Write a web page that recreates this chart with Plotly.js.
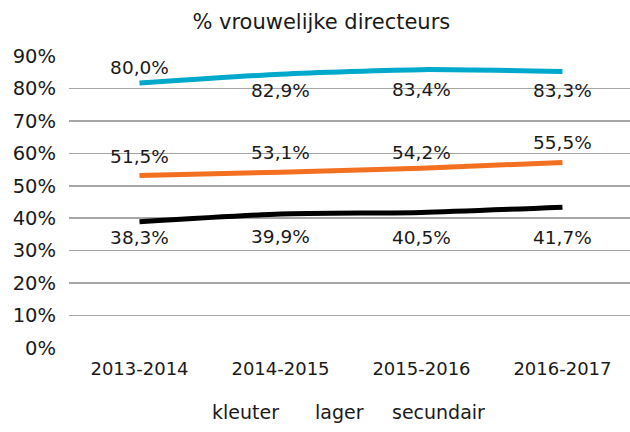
<!DOCTYPE html>
<html>
<head>
<meta charset="utf-8">
<script src="https://cdn.plot.ly/plotly-3.0.1.min.js"></script>
<style>html,body{margin:0;padding:0;background:#fff;overflow:hidden}#chart{width:630px;height:432px}</style>
</head>
<body>
<div id="chart"></div>
<script>
const categories = ['2013-2014', '2014-2015', '2015-2016', '2016-2017'];
const seriesNames = ['kleuter', 'lager', 'secundair'];
// line positions as drawn in the picture
const kleuter = [0.817, 0.844, 0.858, 0.852];
const lager = [0.532, 0.542, 0.554, 0.572];
const secundair = [0.389, 0.413, 0.418, 0.434];
// data label texts as printed
const kleuterLabels = ['80,0%', '82,9%', '83,4%', '83,3%'];
const lagerLabels = ['51,5%', '53,1%', '54,2%', '55,5%'];
const secundairLabels = ['38,3%', '39,9%', '40,5%', '41,7%'];

const colors = ['#00A8CC', '#F37021', '#000000'];
const FONT = '"DejaVu Sans", sans-serif';

// label placement (style only): side and gap size per point
const kleuterPos = ['top center', 'bottom center', 'bottom center', 'bottom center'];
const lagerPos = ['top center', 'top center', 'top center', 'top center'];
const secundairPos = ['bottom center', 'bottom center', 'bottom center', 'bottom center'];
const kleuterGap = [5, 12, 19, 17];
const lagerGap = [11, 12, 6, 12];
const secundairGap = [12, 22, 27, 35];

function mk(name, y, labels, color, pos, gap) {
  return {
    type: 'scatter', mode: 'lines+markers+text', name: name,
    x: categories, y: y, text: labels, textposition: pos,
    textfont: {family: FONT, size: 18.5, color: '#1a1a1a'},
    marker: {size: gap, color: 'rgba(0,0,0,0)', line: {width: 0}},
    line: {color: color, width: 5, shape: 'spline', smoothing: 0.6},
    cliponaxis: false, showlegend: false, hoverinfo: 'skip'
  };
}

const data = [
  mk(seriesNames[0], kleuter, kleuterLabels, colors[0], kleuterPos, kleuterGap),
  mk(seriesNames[1], lager, lagerLabels, colors[1], lagerPos, lagerGap),
  mk(seriesNames[2], secundair, secundairLabels, colors[2], secundairPos, secundairGap)
];

const legendX = [0.314, 0.483, 0.658];
const annotations = seriesNames.map((n, i) => ({
  text: n, xref: 'paper', yref: 'paper', x: legendX[i], y: -0.218,
  xanchor: 'center', yanchor: 'middle', showarrow: false,
  font: {family: FONT, size: 19, color: '#1a1a1a'}
}));

const layout = {
  width: 630, height: 432,
  margin: {l: 69, r: 0, t: 56, b: 84},
  paper_bgcolor: '#ffffff', plot_bgcolor: '#ffffff',
  font: {family: FONT, color: '#1a1a1a'},
  title: {text: '% vrouwelijke directeurs', x: 0.51, xref: 'container', xanchor: 'center',
          y: 0.949, yref: 'container', yanchor: 'middle',
          font: {family: FONT, size: 21, color: '#1a1a1a'}},
  xaxis: {type: 'category', range: [-0.5, 3.479], showgrid: false, zeroline: false,
          showline: false, ticks: '', tickfont: {family: FONT, size: 18, color: '#1a1a1a'},
          ticklabelstandoff: 8, fixedrange: true},
  yaxis: {range: [0, 0.9], dtick: 0.1, tickformat: '.0%', showgrid: true,
          gridcolor: '#A6A6A6', gridwidth: 1.5, zeroline: false, showline: false, ticks: '',
          tickfont: {family: FONT, size: 19.5, color: '#1a1a1a'}, ticklabelstandoff: 12, fixedrange: true},
  showlegend: false,
  annotations: annotations
};

Plotly.newPlot('chart', data, layout, {displayModeBar: false, staticPlot: true});
</script>
</body>
</html>
